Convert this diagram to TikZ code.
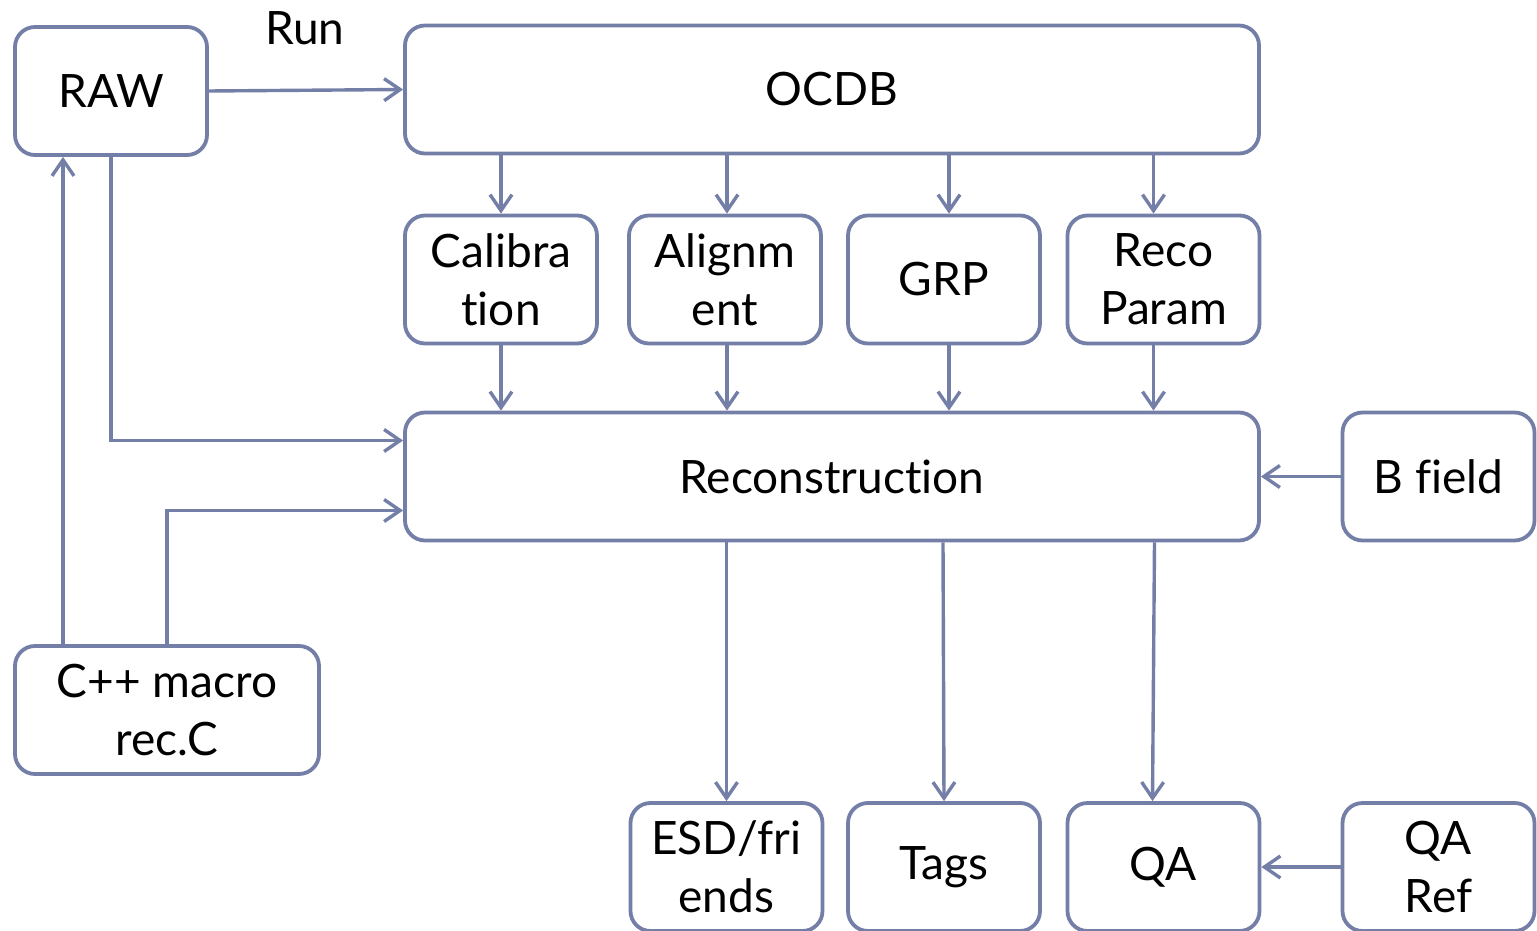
\documentclass[tikz,border=0pt]{standalone}
\usepackage{fontspec}
\setmainfont[Ligatures={NoCommon}]{Lato}
\usetikzlibrary{calc,arrows.meta}
\definecolor{edge}{RGB}{116,127,168}
\tikzset{
  box/.style={draw=edge, line width=1.9pt, rounded corners=10pt, fill=white,
    minimum width=96pt, minimum height=64pt, inner sep=0pt, align=center,
    font=\fontsize{23}{29}\selectfont},
  wide/.style={box, minimum width=427pt},
  link/.style={draw=edge, line width=1.7pt, -{Straight Barb[length=8pt,width=11pt,line width=1.7pt]}}
}
\begin{document}
\begin{tikzpicture}[x=0.5pt, y=-0.5pt]
\useasboundingbox (0,0) rectangle (1537,931);
% top row
\node[box] (raw) at (111,91) {RAW};
\node[wide] (ocdb) at (832,89.5) {OCDB};
\node[font=\fontsize{23}{29}\selectfont] (run) at (305,28) {Run};
% condition objects
\node[box] (cal) at (501,279.5) {Calibra\\tion};
\node[box] (ali) at (725,279.5) {Alignm\\ent};
\node[box] (grp) at (944,279.5) {GRP};
\node[box] (rpar) at (1163.5,279.5) {Reco\\Param};
% reconstruction stage
\node[wide] (rec) at (832,476.5) {Reconstruction};
\node[box] (bfield) at (1438.5,476.5) {B field};
\node[box, minimum width=152pt] (macro) at (167,710) {C++ macro\\rec.C};
% outputs
\node[box] (esd) at (726.5,867) {ESD/fri\\ends};
\node[box] (tags) at (944,867) {Tags};
\node[box] (qa) at (1163.5,867) {QA};
\node[box] (qaref) at (1438.5,867) {QA\\Ref};

\draw[link] (raw.east) -- (ocdb.west);
% OCDB feeds the condition objects
\draw[link] (ocdb.south -| cal.north) -- (cal.north);
\draw[link] ($(ocdb.south -| ali.north)+(2,0)$) -- ($(ali.north)+(2,0)$);
\draw[link] ($(ocdb.south -| grp.north)+(5,0)$) -- ($(grp.north)+(5,0)$);
\draw[link] ($(ocdb.south -| rpar.north)+(-10,0)$) -- ($(rpar.north)+(-10,0)$);
% condition objects feed the reconstruction
\draw[link] (cal.south) -- (rec.north -| cal.south);
\draw[link] ($(ali.south)+(2,0)$) -- ($(rec.north -| ali.south)+(2,0)$);
\draw[link] ($(grp.south)+(5,0)$) -- ($(rec.north -| grp.south)+(5,0)$);
\draw[link] ($(rpar.south)+(-10,0)$) -- ($(rec.north -| rpar.south)+(-10,0)$);
% inputs on the left
\draw[link] (raw.south) |- ($(rec.west)+(0,-36)$);
\draw[link] ($(macro.north)+(-104,0)$) -- ($(raw.south)+(-48,0)$);
\draw[link] (macro.north) |- ($(rec.west)+(0,34)$);
\draw[link] (bfield.west) -- (rec.east);
% outputs
\draw[link] (rec.south -| esd.north) -- (esd.north);
\draw[link] ($(rec.south -| tags.north)+(-1,0)$) -- (tags.north);
\draw[link] ($(rec.south -| qa.north)+(-9,0)$) -- ($(qa.north)+(-11,0)$);
\draw[link] (qaref.west) -- (qa.east);
\end{tikzpicture}
\end{document}
